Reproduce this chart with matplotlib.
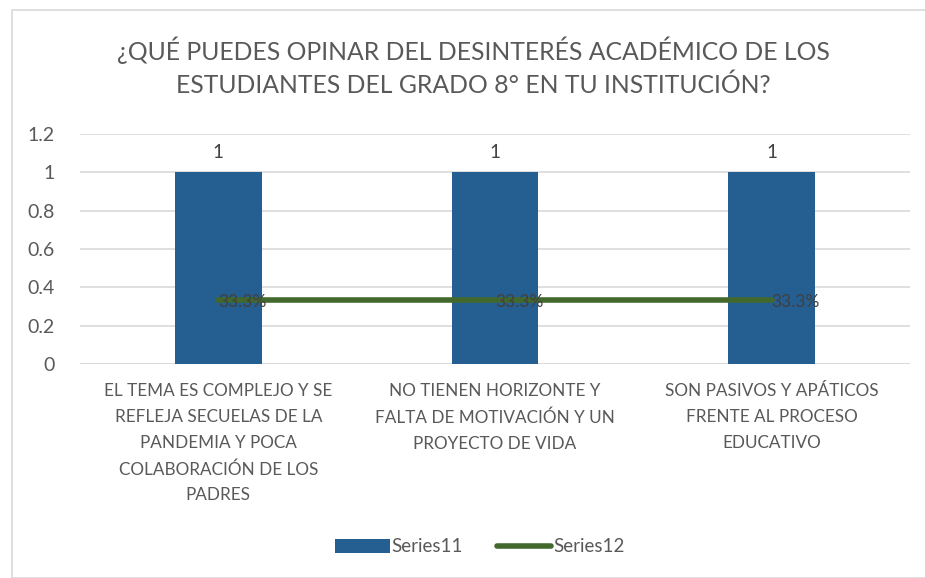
import numpy as np
import matplotlib.pyplot as plt
from matplotlib.patches import Rectangle

plt.rcParams['font.family'] = ['Lato', 'DejaVu Sans']

categories = ['EL TEMA ES COMPLEJO Y SE\nREFLEJA SECUELAS DE LA\nPANDEMIA Y POCA\nCOLABORACIÓN DE LOS\nPADRES',
              'NO TIENEN HORIZONTE Y\nFALTA DE MOTIVACIÓN Y UN\nPROYECTO DE VIDA',
              'SON PASIVOS Y APÁTICOS\nFRENTE AL PROCESO\nEDUCATIVO']
series11 = [1, 1, 1]
series12 = [0.333, 0.333, 0.333]
yticks = [0, 0.2, 0.4, 0.6, 0.8, 1, 1.2]
ytick_labels = ['0', '0.2', '0.4', '0.6', '0.8', '1', '1.2']
title = '¿QUÉ PUEDES OPINAR DEL DESINTERÉS ACADÉMICO DE LOS\nESTUDIANTES DEL GRADO 8° EN TU INSTITUCIÓN?'

bar_col = '#255E91'
line_col = '#43682B'
txt = '#595959'

fig = plt.figure(figsize=(9.25, 5.78), dpi=100)
fig.patches.append(Rectangle((12/925, 0), 1, 1 - 10/578, transform=fig.transFigure,
                             fill=False, edgecolor='#D9D9D9', lw=1.2))
ax = fig.add_axes([80/925, 1 - 364/578, 830/925, 230/578])

x = np.arange(len(categories))
bars = ax.bar(x, series11, width=0.314, color=bar_col, zorder=2, label='Series11')
line, = ax.plot(x, series12, color=line_col, lw=4, solid_capstyle='round', zorder=3, label='Series12')

for xi, v in zip(x, series11):
    ax.text(xi, v + 0.06, f'{v:g}', ha='center', va='bottom', fontsize=13.5, color='#404040')
for xi, v in zip(x, series12):
    ax.text(xi, v - 0.012, f'{v*100:.1f}%', ha='left', va='center', fontsize=12.5, color='#404040', zorder=4)

ax.set_xlim(-0.5, 2.5)
ax.set_ylim(0, 1.2)
ax.set_yticks(yticks)
ax.set_yticklabels(ytick_labels, fontsize=14, color=txt)
ax.set_xticks(x)
ax.set_xticklabels(categories, fontsize=12.3, color=txt, linespacing=1.75, va='top')
ax.tick_params(axis='both', length=0)
ax.tick_params(axis='y', pad=18)
ax.tick_params(axis='x', pad=14)
ax.grid(axis='y', color='#D9D9D9', lw=1.2, zorder=0)
for s in ax.spines.values():
    s.set_visible(False)
ax.axhline(0, color='#D9D9D9', lw=1.2, zorder=1)

fig.text(473/925, 1 - 67/578, title, ha='center', va='center', fontsize=17.8,
         color=txt, linespacing=1.5)

fig.legend(handles=[bars, line], loc='center', bbox_to_anchor=(480/925, 1 - 547/578), ncol=2,
           frameon=False, fontsize=13.5, labelcolor=txt, handlelength=2.9, handletextpad=0.1,
           columnspacing=1.8)

fig.savefig('out.png', dpi=100)
